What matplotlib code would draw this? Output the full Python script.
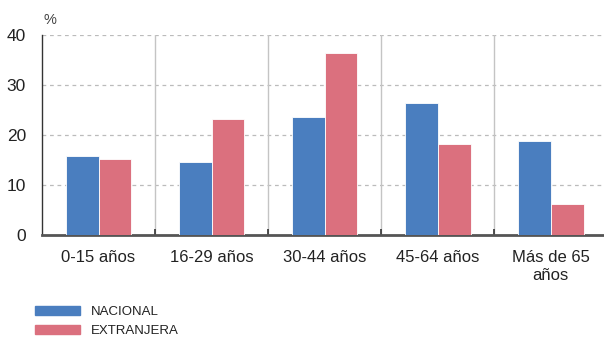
import matplotlib
matplotlib.use("Agg")
import matplotlib.pyplot as plt
from matplotlib import font_manager
import numpy as np
from matplotlib.patches import Patch

categorias = ["0-15 años", "16-29 años", "30-44 años", "45-64 años", "Más de 65\naños"]
nacional = [15.8, 14.7, 23.7, 26.5, 18.9]
extranjera = [15.3, 23.2, 36.5, 18.3, 6.2]
yticks = [0, 10, 20, 30, 40]

azul = "#4a7ebf"
rojo = "#db707e"

plt.rcParams["font.family"] = ["Liberation Sans", "DejaVu Sans"]

# leyenda en letra estrecha si existe
nombres = {f.name for f in font_manager.fontManager.ttflist}
if "Liberation Sans Narrow" in nombres:
    prop_ley = {"family": "Liberation Sans Narrow", "size": 10.5}
else:
    prop_ley = {"family": "Liberation Sans", "size": 9.5}

fig = plt.figure(figsize=(6.04, 3.38), dpi=100)
ax = fig.add_axes([42 / 604, 1 - 235 / 338, 1 - 42 / 604, 200 / 338])

x = np.arange(len(categorias))
w = 0.29
ax.bar(x - w / 2, nacional, w, color=azul, edgecolor="white", linewidth=0.6, zorder=3)
ax.bar(x + w / 2, extranjera, w, color=rojo, edgecolor="white", linewidth=0.6, zorder=3)

ax.set_xlim(-0.5, 4.47)
ax.set_ylim(0, 40)
ax.set_yticks(yticks)
ax.set_xticks(x)
ax.set_xticklabels(categorias, fontsize=12, color="#222222", linespacing=1.2)
ax.tick_params(axis="x", length=0, pad=11)
ax.tick_params(axis="y", length=0, pad=11.5, labelsize=12.5, labelcolor="#222222")

for v in yticks[1:]:
    ax.axhline(v, color="#bbbbbb", linestyle=(0, (3, 3)), linewidth=0.9, zorder=1)
for s in [0.5, 1.5, 2.5, 3.5]:
    ax.axvline(s, color="#c4c4c4", linewidth=1, zorder=1)
ax.set_xticks([0.5, 1.5, 2.5, 3.5], minor=True)
ax.tick_params(axis="x", which="minor", direction="in", length=4, width=1.2, color="#333333")

for sp in ["top", "right"]:
    ax.spines[sp].set_visible(False)
ax.spines["left"].set_color("#333333")
ax.spines["left"].set_linewidth(1)
ax.spines["bottom"].set_color("#555555")
ax.spines["bottom"].set_linewidth(2)

fig.text(43 / 604, 1 - 20 / 338, "%", fontsize=10.5, color="#444444", va="center", ha="left")

handles = [Patch(color=azul, label="NACIONAL"), Patch(color=rojo, label="EXTRANJERA")]
fig.legend(handles=handles, loc="upper left", bbox_to_anchor=(35 / 604, 1 - 306 / 338),
           frameon=False, borderpad=0, borderaxespad=0, handlelength=3.4, handleheight=0.6,
           handletextpad=0.85, labelspacing=0.55, prop=prop_ley, labelcolor="#222222")

fig.savefig("out.png", dpi=100)
